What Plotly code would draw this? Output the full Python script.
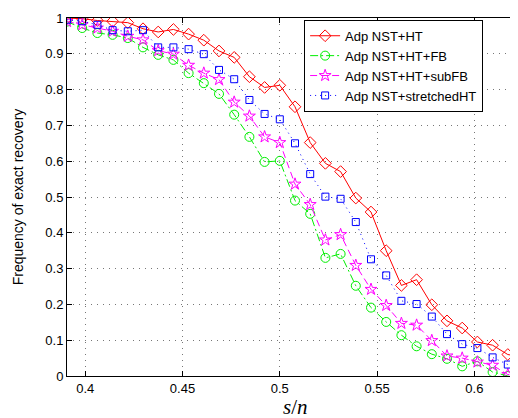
import plotly.graph_objects as go

# s/n values: k/128 for k = 50..80
k_vals = list(range(50, 81))
s_over_n = [k / 128 for k in k_vals]

adp_nst_ht = [1.0, 0.998, 0.993, 0.991, 0.987, 0.970, 0.961, 0.968, 0.955, 0.938, 0.908,
              0.890, 0.836, 0.806, 0.812, 0.752, 0.652, 0.594, 0.571, 0.497, 0.458,
              0.350, 0.253, 0.269, 0.199, 0.154, 0.134, 0.095, 0.086, 0.060, 0.052]

adp_nst_ht_fb = [0.99, 0.972, 0.958, 0.953, 0.944, 0.918, 0.897, 0.883, 0.846, 0.818, 0.788,
                 0.730, 0.668, 0.598, 0.601, 0.490, 0.453, 0.330, 0.341, 0.252, 0.191,
                 0.151, 0.114, 0.083, 0.061, 0.048, 0.027, 0.041, 0.011, 0.0, 0.008]

adp_nst_ht_subfb = [0.99, 0.981, 0.972, 0.963, 0.949, 0.939, 0.909, 0.899, 0.868, 0.846, 0.828,
                    0.765, 0.726, 0.668, 0.652, 0.536, 0.479, 0.380, 0.395, 0.309, 0.242,
                    0.197, 0.147, 0.142, 0.099, 0.056, 0.050, 0.039, 0.030, 0.004, 0.009]

adp_nst_stretched = [0.995, 0.991, 0.981, 0.966, 0.963, 0.966, 0.918, 0.918, 0.913, 0.899, 0.855,
                     0.829, 0.771, 0.732, 0.717, 0.650, 0.564, 0.501, 0.495, 0.430, 0.326,
                     0.281, 0.210, 0.201, 0.166, 0.117, 0.089, 0.078, 0.052, 0.032, 0.026]

x_ticks = [0.4, 0.45, 0.5, 0.55, 0.6]
x_tick_labels = ["0.4", "0.45", "0.5", "0.55", "0.6"]
y_ticks = [0, 0.1, 0.2, 0.3, 0.4, 0.5, 0.6, 0.7, 0.8, 0.9, 1.0]
y_tick_labels = ["0", "0.1", "0.2", "0.3", "0.4", "0.5", "0.6", "0.7", "0.8", "0.9", "1"]

fig = go.Figure()

fig.add_trace(go.Scatter(
    x=s_over_n, y=adp_nst_ht, name="Adp NST+HT", mode="lines+markers",
    line=dict(color="#ff0000", width=1, dash="solid"),
    marker=dict(symbol="diamond-open", size=9, color="#ff0000", line=dict(width=1))))

fig.add_trace(go.Scatter(
    x=s_over_n, y=adp_nst_ht_fb, name="Adp NST+HT+FB", mode="lines+markers",
    line=dict(color="#00ee00", width=1, dash="8px,3px,2px,3px"),
    marker=dict(symbol="circle-open", size=9, color="#00ee00", line=dict(width=1))))

fig.add_trace(go.Scatter(
    x=s_over_n, y=adp_nst_ht_subfb, name="Adp NST+HT+subFB", mode="lines+markers",
    line=dict(color="#ff00ff", width=1, dash="7px,4px"),
    marker=dict(symbol="star-open", size=9, color="#ff00ff", line=dict(width=1))))

fig.add_trace(go.Scatter(
    x=s_over_n, y=adp_nst_stretched, name="Adp NST+stretchedHT", mode="lines+markers",
    line=dict(color="#0000ff", width=1, dash="1px,4px"),
    marker=dict(symbol="square-open", size=7, color="#0000ff", line=dict(width=1))))

axis_common = dict(
    showline=True, linecolor="black", linewidth=1, mirror="allticks",
    ticks="inside", ticklen=5, tickcolor="black",
    showgrid=True, gridcolor="#777777", griddash="1px,5px", gridwidth=1,
    zeroline=False,
    tickfont=dict(family="Liberation Sans, Arial", size=13, color="black"),
)

fig.update_xaxes(range=[50 / 128, 80 / 128], tickvals=x_ticks, ticktext=x_tick_labels,
                 **axis_common)
fig.update_yaxes(range=[0, 1], tickvals=y_ticks, ticktext=y_tick_labels,
                 title=dict(text="Frequency of exact recovery",
                            font=dict(family="Liberation Sans, Arial", size=14, color="black"),
                            standoff=18),
                 **axis_common)

fig.add_annotation(
    text="<i>s</i>/<i>n</i>", xref="paper", yref="paper", x=0.5, y=-0.086,
    xanchor="center", yanchor="middle", showarrow=False,
    font=dict(family="Liberation Serif, Times New Roman", size=21, color="black"))

fig.update_layout(
    width=518, height=418,
    margin=dict(l=59, r=3, t=10, b=50),
    plot_bgcolor="white", paper_bgcolor="white",
    legend=dict(x=0.52, y=0.995, xanchor="left", yanchor="top",
                bgcolor="white", bordercolor="black", borderwidth=1,
                font=dict(family="Liberation Sans, Arial", size=13, color="black"),
                tracegroupgap=0, itemwidth=30),
    showlegend=True,
)

fig.write_html("out.html")
